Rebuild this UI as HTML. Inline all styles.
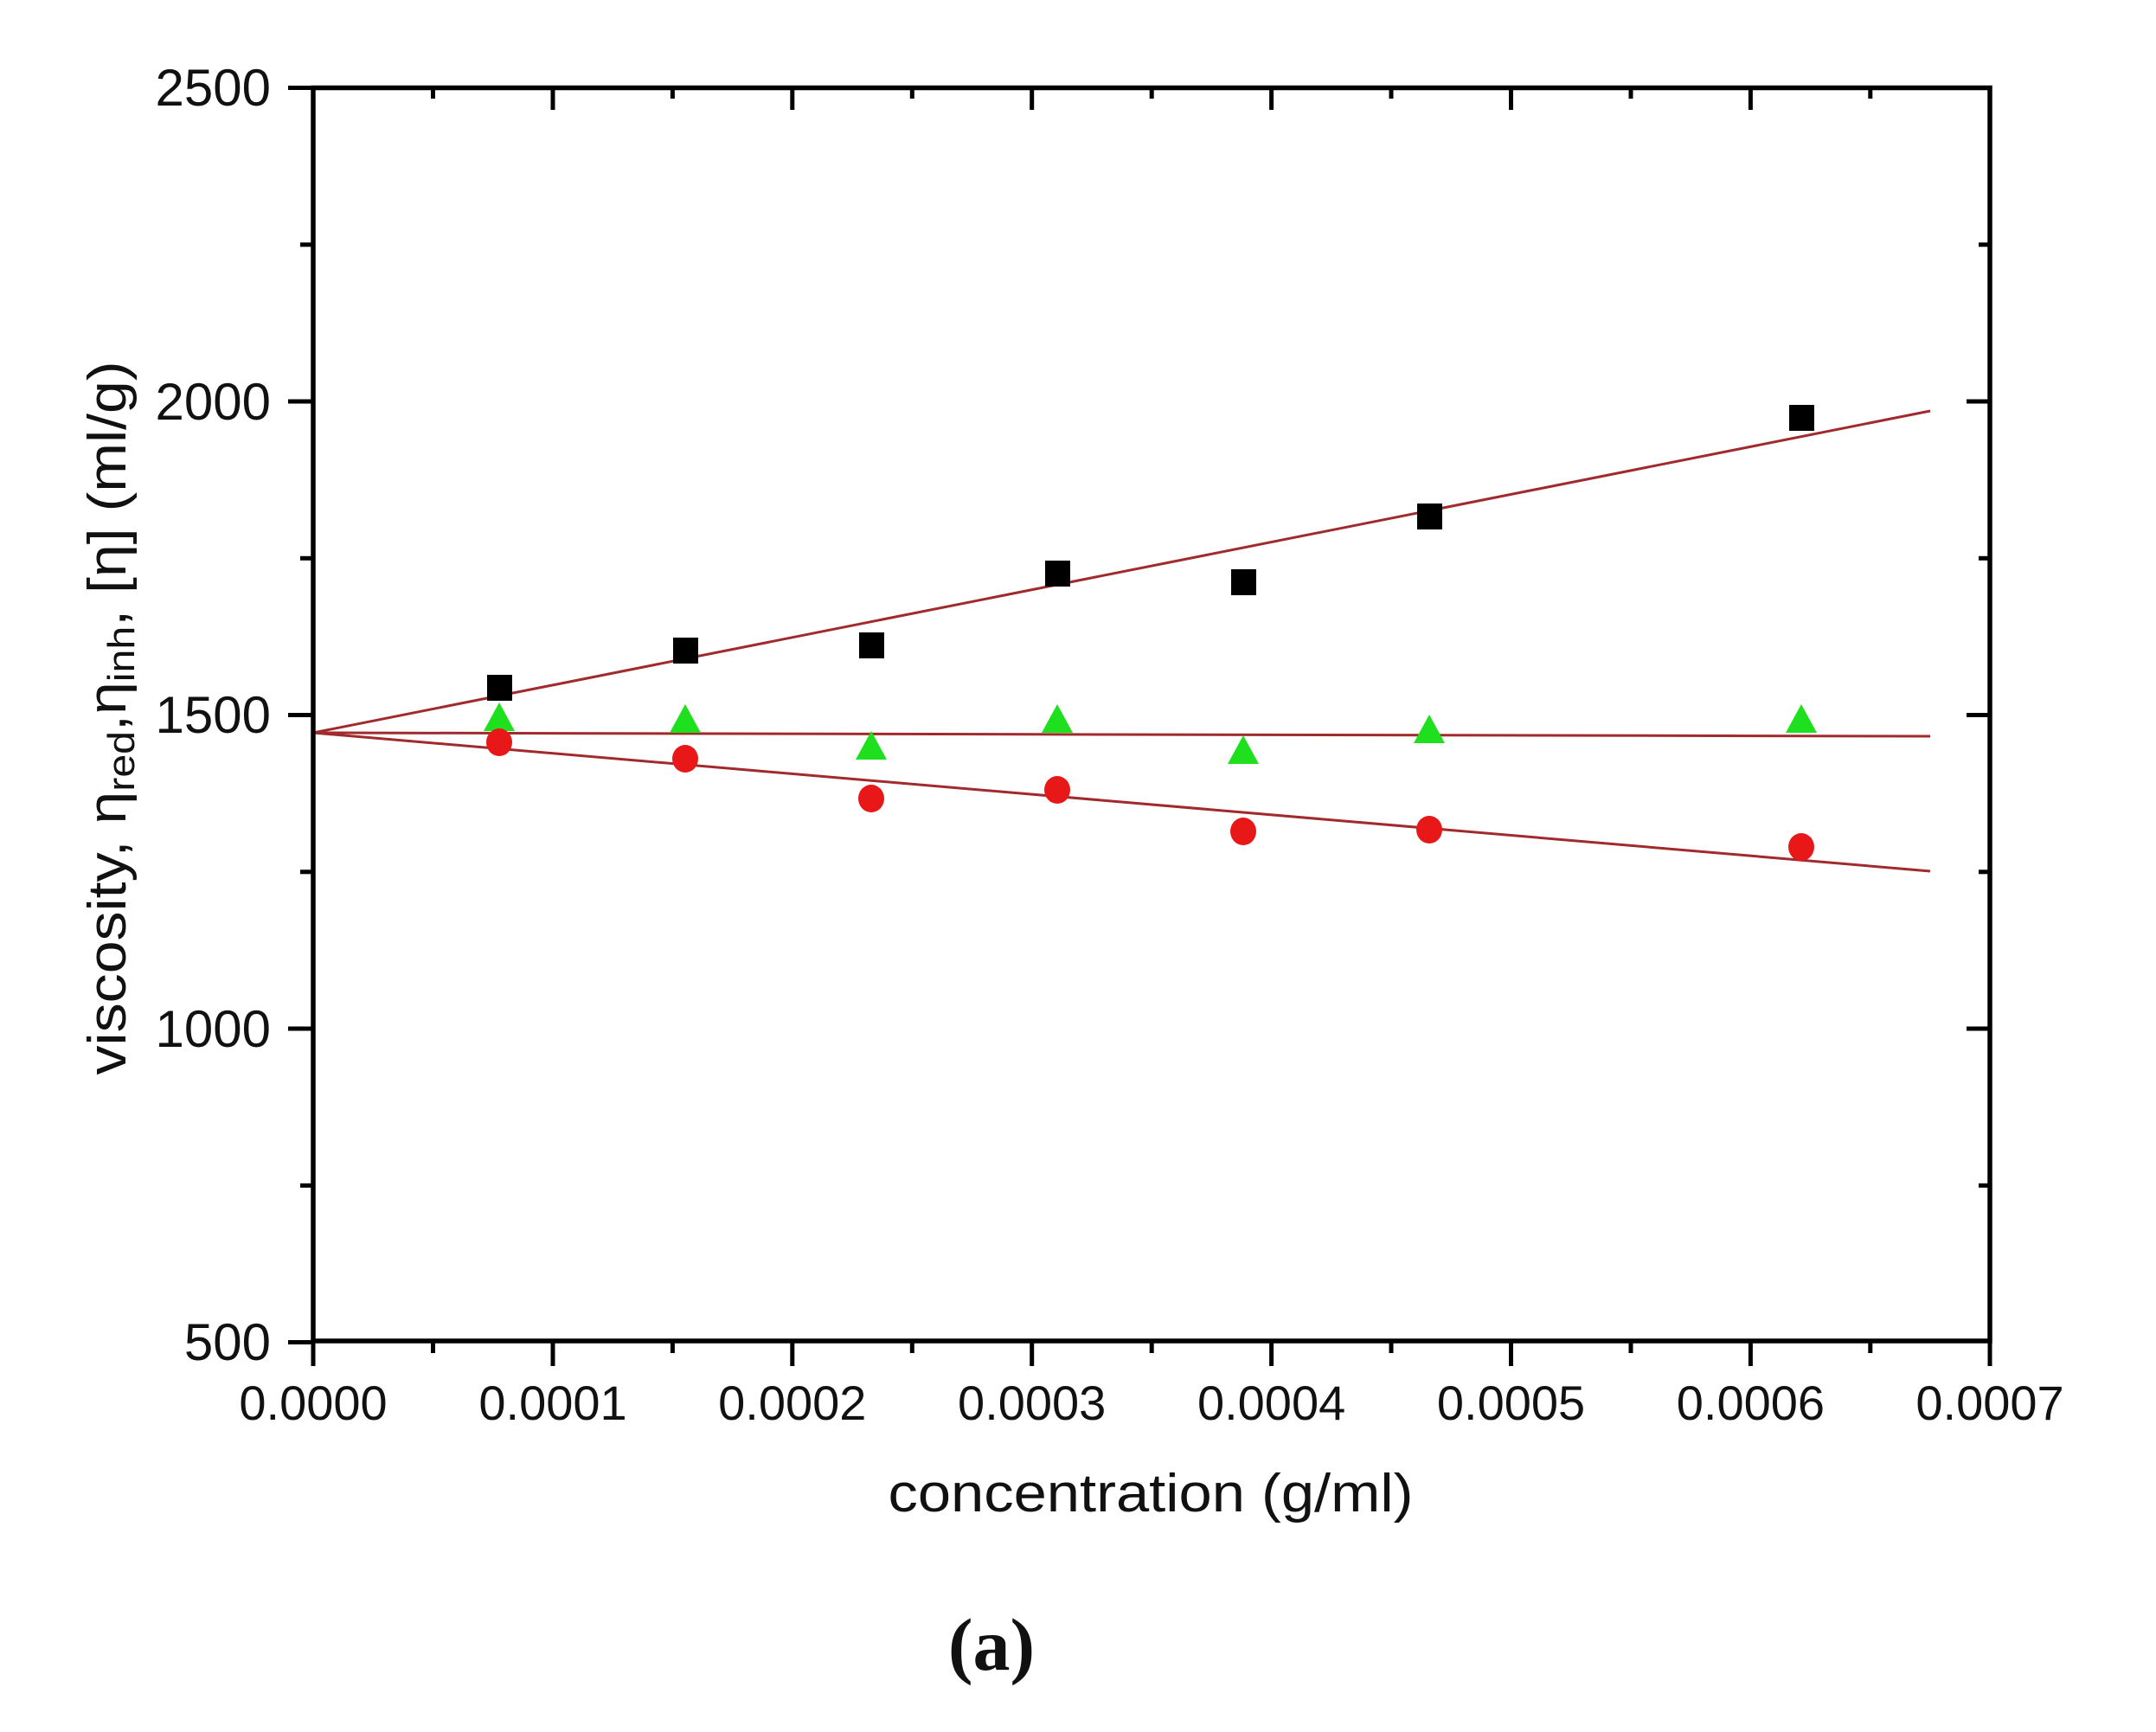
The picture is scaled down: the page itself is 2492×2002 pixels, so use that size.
<!DOCTYPE html>
<html><head><meta charset="utf-8"><style>
html,body{margin:0;padding:0;background:#fff;}
svg{display:block;}
text{font-family:"Liberation Sans",Arial,sans-serif;fill:#111;}
</style></head><body>
<svg width="2492" height="2002" viewBox="0 0 2492 2002" xmlns="http://www.w3.org/2000/svg">
<rect width="2492" height="2002" fill="#fff"/>
<g stroke="#a02a2c" stroke-width="3" fill="none">
<line x1="362" y1="847" x2="2231" y2="475"/>
<line x1="362" y1="847" x2="2231" y2="851"/>
<line x1="362" y1="847" x2="2231" y2="1007"/>
</g>
<g fill="#000">
<rect x="563" y="780" width="29" height="30"/>
<rect x="778" y="737" width="29" height="30"/>
<rect x="993" y="731" width="29" height="30"/>
<rect x="1208" y="648" width="29" height="30"/>
<rect x="1423" y="658" width="29" height="30"/>
<rect x="1638" y="582" width="29" height="30"/>
<rect x="2068" y="468" width="29" height="30"/>
</g>
<g fill="#1fe01f">
<polygon points="577,812 559,845 595,845"/>
<polygon points="792,814 774,847 810,847"/>
<polygon points="1007,845 989,878 1025,878"/>
<polygon points="1222,814 1204,847 1240,847"/>
<polygon points="1437,850 1419,883 1455,883"/>
<polygon points="1652,826 1634,859 1670,859"/>
<polygon points="2082,814 2064,847 2100,847"/>
</g>
<g fill="#e81818">
<ellipse cx="577" cy="858" rx="15" ry="16"/>
<ellipse cx="792" cy="877" rx="15" ry="16"/>
<ellipse cx="1007" cy="923" rx="15" ry="16"/>
<ellipse cx="1222" cy="913" rx="15" ry="16"/>
<ellipse cx="1437" cy="961" rx="15" ry="16"/>
<ellipse cx="1652" cy="959" rx="15" ry="16"/>
<ellipse cx="2082" cy="979" rx="15" ry="16"/>
</g>
<rect x="362" y="101.5" width="1938" height="1448.5" fill="none" stroke="#000" stroke-width="5.5"/>
<g stroke="#000" stroke-width="5">
<line x1="362" y1="1550" x2="362" y2="1579"/>
<line x1="639" y1="1550" x2="639" y2="1579"/>
<line x1="915.8" y1="1550" x2="915.8" y2="1579"/>
<line x1="1192.7" y1="1550" x2="1192.7" y2="1579"/>
<line x1="1469.6" y1="1550" x2="1469.6" y2="1579"/>
<line x1="1746.5" y1="1550" x2="1746.5" y2="1579"/>
<line x1="2023.4" y1="1550" x2="2023.4" y2="1579"/>
<line x1="2300" y1="1550" x2="2300" y2="1579"/>
<line x1="500.5" y1="1550" x2="500.5" y2="1564"/>
<line x1="777.4" y1="1550" x2="777.4" y2="1564"/>
<line x1="1054.3" y1="1550" x2="1054.3" y2="1564"/>
<line x1="1331.2" y1="1550" x2="1331.2" y2="1564"/>
<line x1="1608" y1="1550" x2="1608" y2="1564"/>
<line x1="1885" y1="1550" x2="1885" y2="1564"/>
<line x1="2161.8" y1="1550" x2="2161.8" y2="1564"/>
<line x1="639" y1="101.5" x2="639" y2="127"/>
<line x1="915.8" y1="101.5" x2="915.8" y2="127"/>
<line x1="1192.7" y1="101.5" x2="1192.7" y2="127"/>
<line x1="1469.6" y1="101.5" x2="1469.6" y2="127"/>
<line x1="1746.5" y1="101.5" x2="1746.5" y2="127"/>
<line x1="2023.4" y1="101.5" x2="2023.4" y2="127"/>
<line x1="500.5" y1="101.5" x2="500.5" y2="114"/>
<line x1="777.4" y1="101.5" x2="777.4" y2="114"/>
<line x1="1054.3" y1="101.5" x2="1054.3" y2="114"/>
<line x1="1331.2" y1="101.5" x2="1331.2" y2="114"/>
<line x1="1608" y1="101.5" x2="1608" y2="114"/>
<line x1="1885" y1="101.5" x2="1885" y2="114"/>
<line x1="2161.8" y1="101.5" x2="2161.8" y2="114"/>
<line x1="333" y1="101.5" x2="362" y2="101.5"/>
<line x1="333" y1="464" x2="362" y2="464"/>
<line x1="333" y1="826.5" x2="362" y2="826.5"/>
<line x1="333" y1="1189" x2="362" y2="1189"/>
<line x1="333" y1="1551.5" x2="362" y2="1551.5"/>
<line x1="347" y1="282.8" x2="362" y2="282.8"/>
<line x1="347" y1="645.3" x2="362" y2="645.3"/>
<line x1="347" y1="1007.8" x2="362" y2="1007.8"/>
<line x1="347" y1="1370.3" x2="362" y2="1370.3"/>
<line x1="2273" y1="464" x2="2300" y2="464"/>
<line x1="2273" y1="826.5" x2="2300" y2="826.5"/>
<line x1="2273" y1="1189" x2="2300" y2="1189"/>
<line x1="2287" y1="282.8" x2="2300" y2="282.8"/>
<line x1="2287" y1="645.3" x2="2300" y2="645.3"/>
<line x1="2287" y1="1007.8" x2="2300" y2="1007.8"/>
<line x1="2287" y1="1370.3" x2="2300" y2="1370.3"/>
</g>
<g font-size="60" text-anchor="end">
<text x="313" y="122">2500</text>
<text x="313" y="485">2000</text>
<text x="313" y="847">1500</text>
<text x="313" y="1210">1000</text>
<text x="313" y="1572">500</text>
</g>
<g font-size="56" text-anchor="middle">
<text x="362" y="1641">0.0000</text>
<text x="639" y="1641">0.0001</text>
<text x="915.8" y="1641">0.0002</text>
<text x="1192.7" y="1641">0.0003</text>
<text x="1469.6" y="1641">0.0004</text>
<text x="1746.5" y="1641">0.0005</text>
<text x="2023.4" y="1641">0.0006</text>
<text x="2300" y="1641">0.0007</text>
</g>
<text x="1330" y="1747" font-size="62" text-anchor="middle" textLength="607" lengthAdjust="spacingAndGlyphs">concentration (g/ml)</text>
<text transform="translate(145,830) rotate(-90)" font-size="62" text-anchor="middle" textLength="825" lengthAdjust="spacingAndGlyphs">viscosity, η<tspan font-size="44" dy="10">red</tspan><tspan dy="-10">,η</tspan><tspan font-size="44" dy="10">inh</tspan><tspan dy="-10">, [η] (ml/g)</tspan></text>
<text x="1146" y="1930" font-size="86" font-weight="bold" text-anchor="middle" style="font-family:'Liberation Serif',serif">(a)</text>
</svg>
</body></html>
